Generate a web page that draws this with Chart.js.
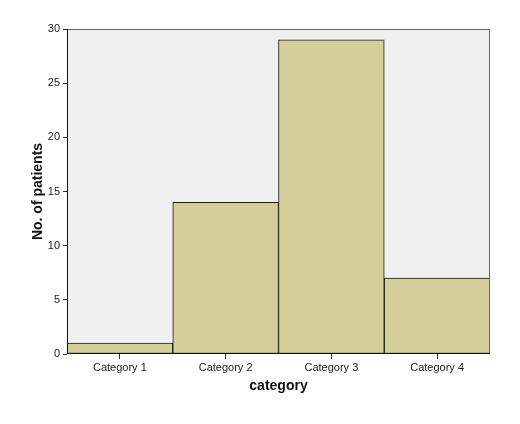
<!DOCTYPE html>
<html>
<head>
<meta charset="utf-8">
<script src="https://cdn.jsdelivr.net/npm/chart.js@4/dist/chart.umd.min.js"></script>
<style>
  html, body { margin: 0; padding: 0; background: #fff; }
  #wrap { width: 520px; height: 424px; }
</style>
</head>
<body>
<div id="wrap"><canvas id="chart" width="520" height="424"></canvas></div>
<script>
const categories = ['Category 1', 'Category 2', 'Category 3', 'Category 4'];
const patients = [1, 14, 29, 7];
const yTicks = [0, 5, 10, 15, 20, 25, 30];

// light grey plot background + thin frame, like the SPSS output
const plotFrame = {
  id: 'plotFrame',
  beforeDatasetsDraw(chart) {
    const { ctx, chartArea: a } = chart;
    ctx.save();
    ctx.fillStyle = '#f0f0f0';
    ctx.fillRect(a.left, a.top, a.right - a.left, a.bottom - a.top);
    ctx.restore();
  },
  afterDatasetsDraw(chart) {
    const { ctx, chartArea: a } = chart;
    ctx.save();
    ctx.strokeStyle = '#666';
    ctx.lineWidth = 1;
    ctx.beginPath();
    ctx.moveTo(a.left, a.top + 0.5);
    ctx.lineTo(a.right - 0.5, a.top + 0.5);
    ctx.lineTo(a.right - 0.5, a.bottom);
    ctx.stroke();
    ctx.strokeStyle = '#111';
    ctx.beginPath();
    ctx.moveTo(a.left + 0.5, a.top);
    ctx.lineTo(a.left + 0.5, a.bottom - 0.5);
    ctx.lineTo(a.right, a.bottom - 0.5);
    ctx.stroke();
    ctx.restore();
  }
};

const tickFont = { family: 'Liberation Sans, Arial, sans-serif', size: 11 };
const titleFont = { family: 'Liberation Sans, Arial, sans-serif', size: 14, weight: 'bold' };

new Chart(document.getElementById('chart'), {
  type: 'bar',
  data: {
    labels: categories,
    datasets: [{
      label: 'No. of patients',
      data: patients,
      backgroundColor: '#d3ce9a',
      borderColor: '#1a1a1a',
      borderWidth: 1,
      borderSkipped: false,
      categoryPercentage: 1.0,
      barPercentage: 1.0
    }]
  },
  options: {
    responsive: false,
    animation: false,
    layout: { padding: { left: 0, top: 29, right: 30, bottom: 0 } },
    plugins: { legend: { display: false }, tooltip: { enabled: false } },
    scales: {
      x: {
        grid: { display: true, drawOnChartArea: false, offset: false, tickLength: 5, color: '#333' },
        border: { display: false },
        ticks: { font: tickFont, color: '#1a1a1a', padding: 2 },
        title: { display: true, text: 'category', font: titleFont, color: '#111', padding: { top: 0, bottom: 29 } },
        afterFit(scale) { scale.height = 70; }
      },
      y: {
        min: 0,
        max: 30,
        afterBuildTicks(scale) { scale.ticks = yTicks.map(v => ({ value: v })); },
        grid: { display: true, drawOnChartArea: false, tickLength: 4, color: '#333' },
        border: { display: false },
        ticks: { font: tickFont, color: '#1a1a1a', padding: 3 },
        title: { display: true, text: 'No. of patients', font: titleFont, color: '#111', padding: { top: 30, bottom: 0 } },
        afterFit(scale) { scale.width = 67; }
      }
    }
  },
  plugins: [plotFrame]
});
</script>
</body>
</html>
